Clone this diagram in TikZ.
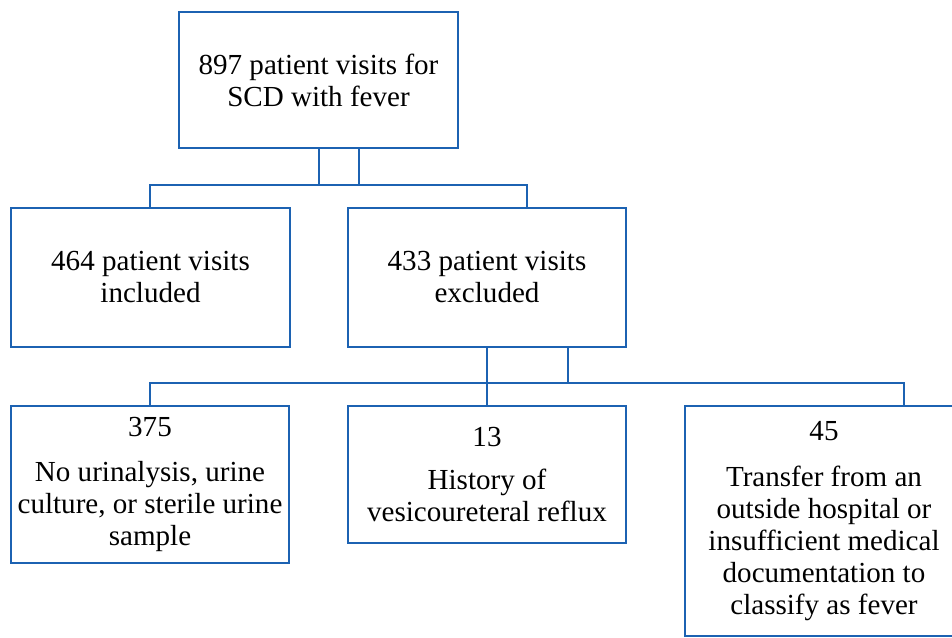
\documentclass[tikz,border=0pt]{standalone}
\usepackage{fontspec}
\setmainfont{Liberation Serif}
\definecolor{lineblue}{RGB}{28,98,178}
\tikzset{
  box/.style={draw=lineblue, line width=1.9pt, align=center, inner sep=0pt,
    font=\fontsize{21.8}{24}\selectfont, text=black},
  conn/.style={draw=lineblue, line width=1.9pt}
}
\begin{document}
\begin{tikzpicture}[x=0.75pt,y=-0.75pt]
\useasboundingbox (0,0) rectangle (952,637);
\clip (0,0) rectangle (952,637);
\node[box, minimum width=279*0.75pt, minimum height=136*0.75pt] (top) at (318.5,80) {897 patient visits for\\SCD with fever};
\node[box, minimum width=279*0.75pt, minimum height=139*0.75pt] (inc) at (150.5,277.5) {464 patient visits\\included};
\node[box, minimum width=278*0.75pt, minimum height=139*0.75pt] (exc) at (487,277.5) {433 patient visits\\excluded};
\node[box, minimum width=278*0.75pt, minimum height=157*0.75pt] (ba) at (150,484.5) {375\\[10pt]No urinalysis, urine\\culture, or sterile urine\\sample};
\node[box, minimum width=278*0.75pt, minimum height=137*0.75pt] (bb) at (487,474.5) {13\\[8pt]History of\\vesicoureteral reflux};
\node[box, minimum width=278*0.75pt, minimum height=230*0.75pt] (bc) at (824,521) {45\\[10pt]Transfer from an\\outside hospital or\\insufficient medical\\documentation to\\classify as fever};
% junctions
\coordinate (j1) at (319,185);
\coordinate (j2) at (359,185);
\coordinate (j3) at (150,185);
\coordinate (j4) at (527,185);
\draw[conn] (top.south -| j1) -- (j1);
\draw[conn] (top.south -| j2) -- (j2);
\draw[conn] (inc.north -| j3) -- (j3) -- (j4) -- (exc.north -| j4);
\coordinate (k1) at (487,383);
\coordinate (k2) at (568,383);
\coordinate (k3) at (150,383);
\coordinate (k4) at (904,383);
\draw[conn] (exc.south -| k1) -- (k1);
\draw[conn] (exc.south -| k2) -- (k2);
\draw[conn] (ba.north -| k3) -- (k3) -- (k4) -- (bc.north -| k4);
\draw[conn] (k1) -- (bb.north -| k1);
\end{tikzpicture}
\end{document}
